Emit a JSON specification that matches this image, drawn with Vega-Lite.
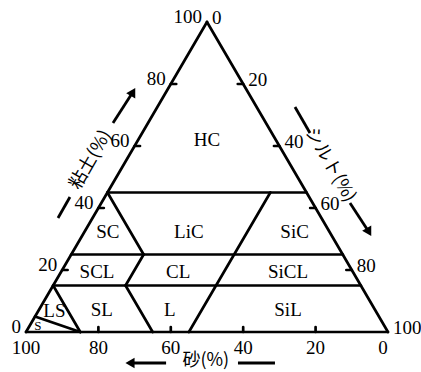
{
  "$schema": "https://vega.github.io/schema/vega-lite/v6.json",
  "width": 421,
  "height": 372,
  "padding": 0,
  "autosize": {"type": "none"},
  "background": "white",
  "config": {"view": {"stroke": null}},
  "datasets": {
    "segments": [
      {"sand1": 100, "clay1": 0, "sand2": 0, "clay2": 0},
      {"sand1": 100, "clay1": 0, "sand2": 0, "clay2": 100},
      {"sand1": 0, "clay1": 0, "sand2": 0, "clay2": 100},
      {"sand1": 55, "clay1": 45, "sand2": 0, "clay2": 45},
      {"sand1": 75, "clay1": 25, "sand2": 0, "clay2": 25},
      {"sand1": 85, "clay1": 15, "sand2": 0, "clay2": 15},
      {"sand1": 55, "clay1": 25, "sand2": 55, "clay2": 45},
      {"sand1": 65, "clay1": 15, "sand2": 55, "clay2": 25},
      {"sand1": 65, "clay1": 0, "sand2": 65, "clay2": 15},
      {"sand1": 55, "clay1": 0, "sand2": 10, "clay2": 45},
      {"sand1": 85, "clay1": 0, "sand2": 85, "clay2": 15},
      {"sand1": 95, "clay1": 5, "sand2": 85, "clay2": 0},
      {"sand1": 80, "clay1": 0, "sand2": 79.2, "clay2": 1.6},
      {"sand1": 60, "clay1": 0, "sand2": 59.2, "clay2": 1.6},
      {"sand1": 40, "clay1": 0, "sand2": 39.2, "clay2": 1.6},
      {"sand1": 20, "clay1": 0, "sand2": 19.2, "clay2": 1.6},
      {"sand1": 80, "clay1": 20, "sand2": 78.5, "clay2": 20},
      {"sand1": 60, "clay1": 40, "sand2": 58.5, "clay2": 40},
      {"sand1": 40, "clay1": 60, "sand2": 38.5, "clay2": 60},
      {"sand1": 20, "clay1": 80, "sand2": 18.5, "clay2": 80},
      {"sand1": 0, "clay1": 80, "sand2": 1.5, "clay2": 80},
      {"sand1": 0, "clay1": 60, "sand2": 1.5, "clay2": 60},
      {"sand1": 0, "clay1": 40, "sand2": 1.5, "clay2": 40},
      {"sand1": 0, "clay1": 20, "sand2": 1.5, "clay2": 20}
    ],
    "arrows": [
      {"sand1": 72.77, "clay1": 36.77, "sand2": 66.08, "clay2": 43.55},
      {"sand1": 42.26, "clay1": 67.42, "sand2": 32.77, "clay2": 76.45},
      {"sand1": -10.6, "clay1": 72.58, "sand2": -10.55, "clay2": 64.19},
      {"sand1": -10.31, "clay1": 41.61, "sand2": -10.81, "clay2": 33.23},
      {"sand1": 66.3, "clay1": -10, "sand2": 75.44, "clay2": -10},
      {"sand1": 46.44, "clay1": -10, "sand2": 36.22, "clay2": -10}
    ],
    "heads": [
      {"sand": 31.73, "clay": 77.42, "dir": 30},
      {"sand": -10.88, "clay": 32.26, "dir": 150},
      {"sand": 76.27, "clay": -10, "dir": 270}
    ],
    "leftLabels": [
      {"label": "0", "sand": 100, "clay": 0},
      {"label": "20", "sand": 80, "clay": 20},
      {"label": "40", "sand": 60, "clay": 40},
      {"label": "60", "sand": 40, "clay": 60},
      {"label": "80", "sand": 20, "clay": 80},
      {"label": "100", "sand": 0, "clay": 100}
    ],
    "rightLabels": [
      {"label": "0", "sand": 0, "clay": 100},
      {"label": "20", "sand": 0, "clay": 80},
      {"label": "40", "sand": 0, "clay": 60},
      {"label": "60", "sand": 0, "clay": 40},
      {"label": "80", "sand": 0, "clay": 20},
      {"label": "100", "sand": 0, "clay": 0}
    ],
    "bottomLabels": [
      {"label": "100", "sand": 100, "clay": 0},
      {"label": "80", "sand": 80, "clay": 0},
      {"label": "60", "sand": 60, "clay": 0},
      {"label": "40", "sand": 40, "clay": 0},
      {"label": "20", "sand": 20, "clay": 0},
      {"label": "0", "sand": 1.4, "clay": 0}
    ],
    "regions": [
      {"label": "HC", "sand": 19.03, "clay": 61.94, "size": 19},
      {"label": "SC", "sand": 61.17, "clay": 32.4, "size": 19},
      {"label": "LiC", "sand": 38.8, "clay": 32.4, "size": 19},
      {"label": "SiC", "sand": 9.6, "clay": 32.4, "size": 19},
      {"label": "SCL", "sand": 70.71, "clay": 19.35, "size": 19},
      {"label": "CL", "sand": 48.3, "clay": 19.35, "size": 19},
      {"label": "SiCL", "sand": 17.94, "clay": 19.35, "size": 19},
      {"label": "LS", "sand": 88.76, "clay": 6.8, "size": 19},
      {"label": "SL", "sand": 75.5, "clay": 7.1, "size": 19},
      {"label": "L", "sand": 56.7, "clay": 7.1, "size": 19},
      {"label": "SiL", "sand": 24.07, "clay": 7.1, "size": 19},
      {"label": "S", "sand": 95.72, "clay": 1.94, "size": 13}
    ],
    "titles": [
      {"label": "粘土(%)", "sand": 54.3, "clay": 55.5, "rot": -60},
      {"label": "シルト(%)", "sand": -10.92, "clay": 53.87, "rot": 60},
      {"label": "砂(%)", "sand": 55.0, "clay": -9.35, "rot": 0}
    ]
  },
  "layer": [
    {
      "data": {"name": "segments"},
      "transform": [
        {"calculate": "100 - datum.sand1 - datum.clay1 / 2", "as": "x1"},
        {"calculate": "100 - datum.sand2 - datum.clay2 / 2", "as": "x2"}
      ],
      "mark": {"type": "rule", "color": "black", "strokeWidth": 2.7, "strokeCap": "round"},
      "encoding": {
        "x": {"field": "x1", "type": "quantitative", "axis": null, "scale": {"domain": [-7.18, 109.12], "nice": false, "zero": false}},
        "x2": {"field": "x2"},
        "y": {"field": "clay1", "type": "quantitative", "axis": null, "scale": {"domain": [-12.9, 107.1], "nice": false, "zero": false}},
        "y2": {"field": "clay2"}
      }
    },
    {
      "data": {"name": "arrows"},
      "transform": [
        {"calculate": "100 - datum.sand1 - datum.clay1 / 2", "as": "x1"},
        {"calculate": "100 - datum.sand2 - datum.clay2 / 2", "as": "x2"}
      ],
      "mark": {"type": "rule", "color": "black", "strokeWidth": 2.8},
      "encoding": {
        "x": {"field": "x1", "type": "quantitative", "axis": null, "scale": {"domain": [-7.18, 109.12], "nice": false, "zero": false}},
        "x2": {"field": "x2"},
        "y": {"field": "clay1", "type": "quantitative", "axis": null, "scale": {"domain": [-12.9, 107.1], "nice": false, "zero": false}},
        "y2": {"field": "clay2"}
      }
    },
    {
      "data": {"name": "heads"},
      "transform": [
        {"calculate": "100 - datum.sand - datum.clay / 2", "as": "x"}
      ],
      "mark": {"type": "point", "shape": "triangle-up", "filled": true, "color": "black", "size": 110, "opacity": 1},
      "encoding": {
        "x": {"field": "x", "type": "quantitative", "axis": null, "scale": {"domain": [-7.18, 109.12], "nice": false, "zero": false}},
        "y": {"field": "clay", "type": "quantitative", "axis": null, "scale": {"domain": [-12.9, 107.1], "nice": false, "zero": false}},
        "angle": {"field": "dir", "type": "quantitative", "scale": null}
      }
    },
    {
      "data": {"name": "leftLabels"},
      "transform": [
        {"calculate": "100 - datum.sand - datum.clay / 2", "as": "x"}
      ],
      "mark": {"type": "text", "align": "right", "baseline": "middle", "dx": -5, "dy": -5, "font": "Liberation Serif", "fontSize": 19, "color": "black"},
      "encoding": {
        "x": {"field": "x", "type": "quantitative", "axis": null, "scale": {"domain": [-7.18, 109.12], "nice": false, "zero": false}},
        "y": {"field": "clay", "type": "quantitative", "axis": null, "scale": {"domain": [-12.9, 107.1], "nice": false, "zero": false}},
        "text": {"field": "label"}
      }
    },
    {
      "data": {"name": "rightLabels"},
      "transform": [
        {"calculate": "100 - datum.sand - datum.clay / 2", "as": "x"}
      ],
      "mark": {"type": "text", "align": "left", "baseline": "middle", "dx": 5, "dy": -4, "font": "Liberation Serif", "fontSize": 19, "color": "black"},
      "encoding": {
        "x": {"field": "x", "type": "quantitative", "axis": null, "scale": {"domain": [-7.18, 109.12], "nice": false, "zero": false}},
        "y": {"field": "clay", "type": "quantitative", "axis": null, "scale": {"domain": [-12.9, 107.1], "nice": false, "zero": false}},
        "text": {"field": "label"}
      }
    },
    {
      "data": {"name": "bottomLabels"},
      "transform": [
        {"calculate": "100 - datum.sand - datum.clay / 2", "as": "x"}
      ],
      "mark": {"type": "text", "align": "center", "baseline": "middle", "dy": 16, "font": "Liberation Serif", "fontSize": 19, "color": "black"},
      "encoding": {
        "x": {"field": "x", "type": "quantitative", "axis": null, "scale": {"domain": [-7.18, 109.12], "nice": false, "zero": false}},
        "y": {"field": "clay", "type": "quantitative", "axis": null, "scale": {"domain": [-12.9, 107.1], "nice": false, "zero": false}},
        "text": {"field": "label"}
      }
    },
    {
      "data": {"name": "regions"},
      "transform": [
        {"calculate": "100 - datum.sand - datum.clay / 2", "as": "x"}
      ],
      "mark": {"type": "text", "align": "center", "baseline": "middle", "font": "Liberation Serif", "color": "black"},
      "encoding": {
        "x": {"field": "x", "type": "quantitative", "axis": null, "scale": {"domain": [-7.18, 109.12], "nice": false, "zero": false}},
        "y": {"field": "clay", "type": "quantitative", "axis": null, "scale": {"domain": [-12.9, 107.1], "nice": false, "zero": false}},
        "text": {"field": "label"},
        "size": {"field": "size", "type": "quantitative", "scale": null}
      }
    },
    {
      "data": {"name": "titles"},
      "transform": [
        {"calculate": "100 - datum.sand - datum.clay / 2", "as": "x"}
      ],
      "mark": {"type": "text", "align": "center", "baseline": "middle", "font": "Noto Sans CJK JP", "fontSize": 18, "color": "black"},
      "encoding": {
        "x": {"field": "x", "type": "quantitative", "axis": null, "scale": {"domain": [-7.18, 109.12], "nice": false, "zero": false}},
        "y": {"field": "clay", "type": "quantitative", "axis": null, "scale": {"domain": [-12.9, 107.1], "nice": false, "zero": false}},
        "text": {"field": "label"},
        "angle": {"field": "rot", "type": "quantitative", "scale": null}
      }
    }
  ]
}
